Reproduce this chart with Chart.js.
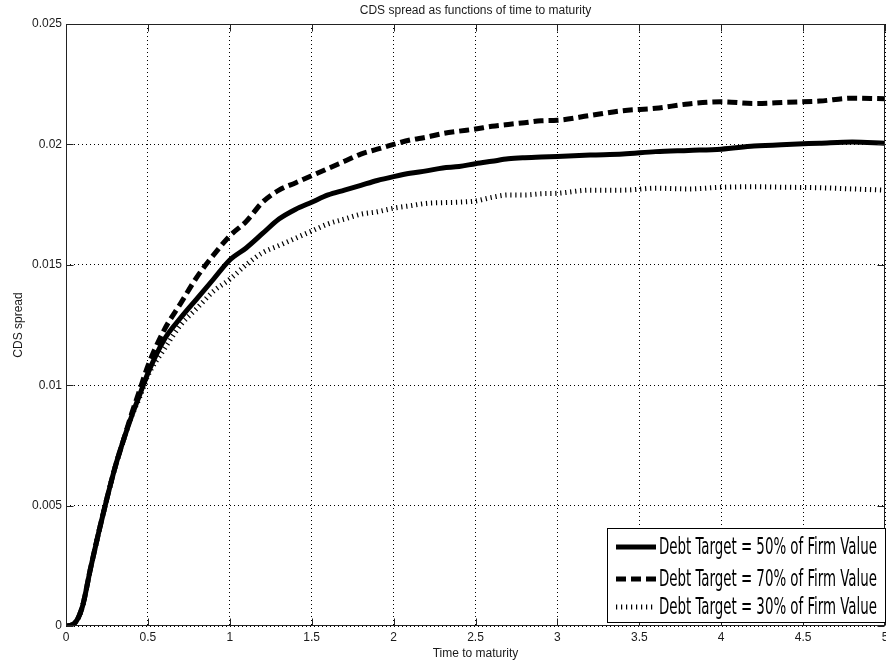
<!DOCTYPE html>
<html>
<head>
<meta charset="utf-8">
<script src="https://cdn.jsdelivr.net/npm/chart.js@4.4.1/dist/chart.umd.min.js"></script>
<style>
html,body{margin:0;padding:0;background:#fff;}
#wrap{width:886px;height:664px;position:relative;}
</style>
</head>
<body>
<div id="wrap"><canvas id="c" width="886" height="664"></canvas></div>
<script>
// ---- data ----
const chartTitle = 'CDS spread as functions of time to maturity';
const xAxisTitle = 'Time to maturity';
const yAxisTitle = 'CDS spread';
const seriesNames = ['Debt Target = 50% of Firm Value', 'Debt Target = 70% of Firm Value', 'Debt Target = 30% of Firm Value'];

const times = [0,0.05,0.1,0.15,0.2,0.25,0.3,0.35,0.4,0.45,0.5,0.6,0.7,0.8,0.9,1.0,1.1,1.2,1.3,1.4,1.5,1.6,1.7,1.8,1.9,2.0,2.1,2.2,2.3,2.4,2.5,2.6,2.7,2.8,2.9,3.0,3.2,3.4,3.6,3.8,4.0,4.2,4.4,4.6,4.8,5.0];

const spread50 = [0,0.0001,0.0008,0.0024,0.0039,0.0053,0.0066,0.0077,0.0087,0.0096,0.0105,
  0.0119,0.0128,0.0136,0.0144,0.0152,0.0157,0.0163,0.0169,0.0173,0.0176,0.0179,0.0181,0.0183,0.0185,
  0.01866,0.0188,0.0189,0.01902,0.01908,0.0192,0.0193,0.0194,0.01945,0.01948,0.0195,
  0.01956,0.0196,0.0197,0.01975,0.0198,0.01993,0.0200,0.02005,0.0201,0.02005];

const spread70 = [0,0.0001,0.0008,0.0024,0.0039,0.0053,0.0066,0.0077,0.0088,0.0098,0.0108,
  0.0123,0.0134,0.0145,0.0154,0.0162,0.0168,0.0176,0.0181,0.0184,0.0187,0.0190,0.0193,0.0196,0.0198,
  0.0200,0.02018,0.0203,0.02045,0.02055,0.02064,0.02075,0.02083,0.0209,0.02098,0.0210,
  0.0212,0.0214,0.0215,0.02168,0.02177,0.0217,0.02175,0.0218,0.02192,0.0219];

const spread30 = [0,0.0001,0.0008,0.0024,0.0039,0.0053,0.0066,0.0077,0.0087,0.0095,0.0104,
  0.0115,0.0125,0.0132,0.0139,0.0144,0.0150,0.0155,0.0158,0.0161,0.0164,0.0167,0.0169,0.0171,0.0172,
  0.01735,0.01745,0.01755,0.01758,0.0176,0.01765,0.0178,0.0179,0.0179,0.01795,0.01797,
  0.0181,0.0181,0.01818,0.01815,0.01822,0.01824,0.01822,0.0182,0.01815,0.0181];

const xTickValues = [0,0.5,1,1.5,2,2.5,3,3.5,4,4.5,5];
const xTickLabels = ['0','0.5','1','1.5','2','2.5','3','3.5','4','4.5','5'];
const yTickValues = [0,0.005,0.01,0.015,0.02,0.025];
const yTickLabels = ['0','0.005','0.01','0.015','0.02','0.025'];

// ---- styling ----
const TXT = '#1a1a1a';
const FONT = 'Liberation Sans, Arial, sans-serif';
const lineStyles = [
  {dash: [], width: 5},
  {dash: [10, 5], width: 5},
  {dash: [1.2, 3.8], width: 5}
];
const seriesValues = [spread50, spread70, spread30];

function toPoints(vals){ return times.map((t,i)=>({x:t, y:vals[i]})); }

const datasets = seriesValues.map((vals, i) => ({
  label: seriesNames[i],
  data: toPoints(vals),
  borderColor: '#000',
  backgroundColor: '#000',
  borderWidth: lineStyles[i].width,
  borderDash: lineStyles[i].dash,
  borderCapStyle: 'butt',
  borderJoinStyle: 'round',
  pointRadius: 0,
  cubicInterpolationMode: 'monotone',
  fill: false
}));

const titlePlugin = {
  id: 'topTitle',
  afterDraw(chart){
    const {ctx, chartArea} = chart;
    ctx.save();
    ctx.font = '12px ' + FONT;
    ctx.fillStyle = TXT;
    ctx.textAlign = 'center';
    ctx.textBaseline = 'middle';
    ctx.fillText(chartTitle, (chartArea.left + chartArea.right)/2, 11);
    ctx.restore();
  }
};

const framePlugin = {
  id: 'frame',
  afterDatasetsDraw(chart){
    const {ctx, chartArea:a, scales} = chart;
    ctx.save();
    ctx.strokeStyle = '#222';
    ctx.lineWidth = 1;
    ctx.setLineDash([]);
    const L = Math.round(a.left)+0.5, R = Math.round(a.right)-0.5, T = Math.round(a.top)+0.5, B = Math.round(a.bottom)-0.5;
    ctx.strokeRect(L, T, R-L, B-T);
    const tl = 7;
    ctx.beginPath();
    scales.x.ticks.forEach(t => {
      const px = Math.round(scales.x.getPixelForValue(t.value)) + 0.5;
      ctx.moveTo(px, B); ctx.lineTo(px, B - tl);
      ctx.moveTo(px, T); ctx.lineTo(px, T + tl);
    });
    scales.y.ticks.forEach(t => {
      const py = Math.round(scales.y.getPixelForValue(t.value)) + 0.5;
      ctx.moveTo(L, py); ctx.lineTo(L + tl, py);
      ctx.moveTo(R, py); ctx.lineTo(R - tl, py);
    });
    ctx.stroke();
    ctx.restore();
  }
};

const legendPlugin = {
  id: 'insideLegend',
  afterDraw(chart){
    const {ctx} = chart;
    const bx = 607.5, by = 528.5, bw = 278, bh = 94;
    ctx.save();
    ctx.fillStyle = '#fff';
    ctx.fillRect(bx, by, bw, bh);
    ctx.strokeStyle = '#000';
    ctx.lineWidth = 1;
    ctx.setLineDash([]);
    ctx.strokeRect(bx, by, bw, bh);
    const rows = [547, 579, 607];
    chart.data.datasets.forEach((ds, i) => {
      const y = rows[i];
      ctx.save();
      ctx.strokeStyle = '#000';
      ctx.lineWidth = ds.borderWidth;
      ctx.lineCap = 'butt';
      ctx.setLineDash(ds.borderDash);
      ctx.beginPath();
      ctx.moveTo(616, y); ctx.lineTo(656, y);
      ctx.stroke();
      ctx.restore();
      ctx.fillStyle = '#000';
      ctx.font = '23px "Liberation Sans Narrow", "DejaVu Sans Condensed", sans-serif';
      ctx.textAlign = 'left';
      ctx.textBaseline = 'middle';
      ctx.fillText(ds.label, 659, y + 1, 218);
    });
    ctx.restore();
  }
};

new Chart(document.getElementById('c').getContext('2d'), {
  type: 'line',
  data: {datasets},
  options: {
    responsive: false,
    animation: false,
    events: [],
    layout: {padding: {top: 24, right: 1, left: 0, bottom: 0}},
    plugins: {
      legend: {display: false},
      title: {display: false},
      tooltip: {enabled: false}
    },
    scales: {
      x: {
        type: 'linear',
        min: 0, max: 5,
        afterBuildTicks(scale){ scale.ticks = xTickValues.map(v => ({value: v})); },
        afterFit(scale){ scale.height = 38; scale.paddingLeft = 0; scale.paddingRight = 0; },
        ticks: {
          autoSkip: false, maxRotation: 0, padding: 4, color: TXT,
          font: {family: FONT, size: 12},
          callback: (v, i) => xTickLabels[i]
        },
        grid: {color: '#000', lineWidth: 1, drawTicks: false, borderDash: [1,3]},
        border: {display: false, dash: [1,3]},
        title: {display: true, text: xAxisTitle, color: TXT, font: {family: FONT, size: 12}, padding: {top: 0, bottom: 3}}
      },
      y: {
        type: 'linear',
        min: 0, max: 0.025,
        afterBuildTicks(scale){ scale.ticks = yTickValues.map(v => ({value: v})); },
        afterFit(scale){ scale.width = 66; scale.paddingTop = 0; scale.paddingBottom = 0; },
        ticks: {
          autoSkip: false, padding: 4, color: TXT,
          font: {family: FONT, size: 12},
          callback: (v, i) => yTickLabels[i]
        },
        grid: {color: '#000', lineWidth: 1, drawTicks: false, borderDash: [1,3]},
        border: {display: false, dash: [1,3]},
        title: {display: true, text: yAxisTitle, color: TXT, font: {family: FONT, size: 12}, padding: {top: 11, bottom: 0}}
      }
    }
  },
  plugins: [titlePlugin, framePlugin, legendPlugin]
});
</script>
</body>
</html>
